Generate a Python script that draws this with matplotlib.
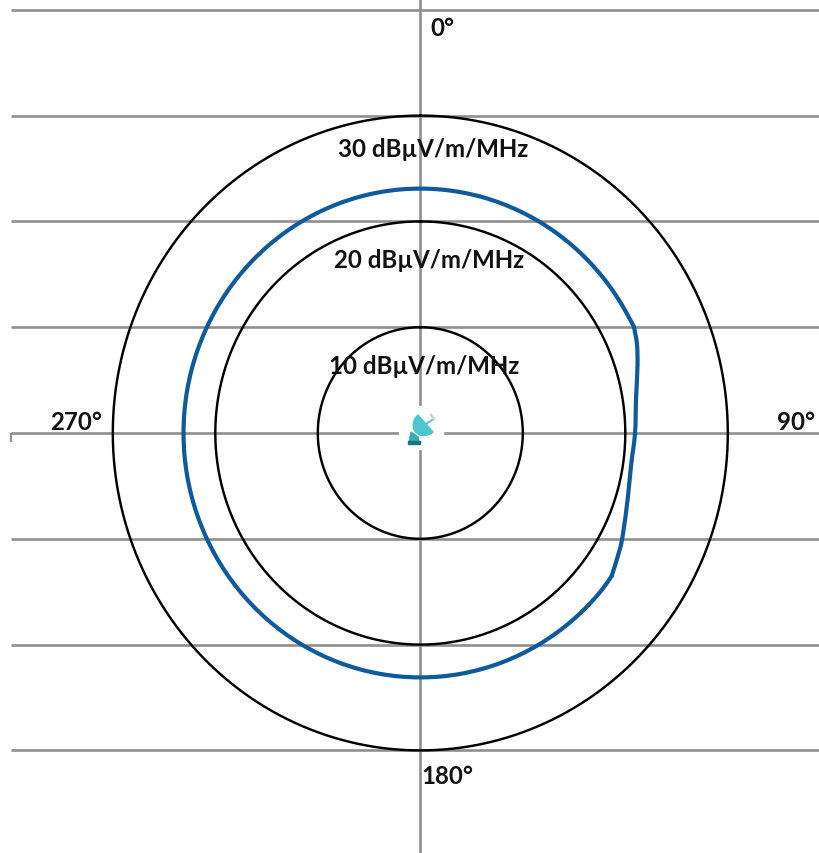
import matplotlib
matplotlib.use("Agg")
import matplotlib.pyplot as plt
import numpy as np
from matplotlib.patches import Polygon, Rectangle, PathPatch
from matplotlib.path import Path

# Data: field-strength contour levels (dBuV/m/MHz) and measured contour (azimuth deg, level)
levels = [10, 20, 30]
level_labels = ["10 dBµV/m/MHz", "20 dBµV/m/MHz", "30 dBµV/m/MHz"]
grid_rows = [-30, -20, -10, 0, 10, 20, 30, 40]
azimuth = [64.3, 68.3, 73.4, 81.3, 90, 98.6, 107.1, 115.3, 119.4, 125.9,
           130, 135, 140, 145, 150, 155, 160, 165, 170, 175, 180,
           185, 190, 195, 200, 205, 210, 215, 220, 225, 230, 235, 240,
           245, 250, 255, 260, 265, 270, 275, 280, 285, 290, 295, 300,
           305, 310, 315, 320, 325, 330, 335, 340, 345, 350, 355, 360,
           365, 370, 375, 380, 385, 390, 395, 400, 405, 410, 415, 420, 424.3]
level = [23.13, 22.75, 22.11, 21.29, 20.95, 20.79, 21.17, 21.9, 22.35, 23.05,
         23.1, 23.1, 23.1, 23.1, 23.1, 23.1, 23.1, 23.1, 23.1, 23.1, 23.1,
         23.1, 23.1, 23.1, 23.1, 23.1, 23.1, 23.1, 23.1, 23.1, 23.1, 23.1, 23.1,
         23.1, 23.1, 23.1, 23.1, 23.1, 23.1, 23.1, 23.1, 23.1, 23.1, 23.1, 23.1,
         23.1, 23.1, 23.1, 23.1, 23.1, 23.1, 23.1, 23.1, 23.1, 23.1, 23.1, 23.1,
         23.1, 23.1, 23.1, 23.1, 23.1, 23.1, 23.1, 23.1, 23.1, 23.1, 23.1, 23.1, 23.13]
compass = ["0°", "90°", "180°", "270°"]
corner_index = 9

W, H = 820, 854
CX, CY = 420.3, 434.0
SX, SY = 10.25, 10.58

fig = plt.figure(figsize=(W / 100, H / 100), dpi=100, facecolor="white")
ax = fig.add_axes([0, 0, 1, 1])
ax.set_xlim(-CX / SX, (W - CX) / SX)
ax.set_ylim((CY - H) / SY, CY / SY)
ax.axis("off")


def px(x, y):
    return (x - CX) / SX, (CY - y) / SY


def smooth_path(points):
    """Catmull-Rom curve through the given points, as cubic Bezier segments."""
    p = np.asarray(points)
    verts, codes = [p[0]], [Path.MOVETO]
    for i in range(len(p) - 1):
        a0 = p[max(i - 1, 0)]
        a1, a2 = p[i], p[i + 1]
        a3 = p[min(i + 2, len(p) - 1)]
        verts += [a1 + (a2 - a0) / 6, a2 - (a3 - a1) / 6, a2]
        codes += [Path.CURVE4] * 3
    return Path(verts, codes)


GRID = "#8f8f8f"
x0 = px(11, 0)[0]
for r in grid_rows:
    ax.plot([x0, ax.get_xlim()[1]], [r, r], color=GRID, lw=1.9, solid_capstyle="butt", zorder=1)
xv = px(420, 0)[0]
ax.plot([xv, xv], ax.get_ylim(), color=GRID, lw=1.9, solid_capstyle="butt", zorder=1)
ax.plot([x0, x0], [0, -0.85], color=GRID, lw=1.6, solid_capstyle="butt", zorder=1)

t = np.linspace(0, 2 * np.pi, 721)
for lv in levels:
    ax.plot(lv * np.sin(t), lv * np.cos(t), color="black", lw=1.75, zorder=2)

a = np.radians(azimuth)
r = np.array(level)
xy = np.column_stack([r * np.sin(a), r * np.cos(a)])
for seg in (xy[:corner_index + 1], xy[corner_index:]):
    ax.add_patch(PathPatch(smooth_path(seg), fill=False, edgecolor="#0f5a9c", lw=3.0,
                           capstyle="round", joinstyle="round", zorder=3))

# central dish icon
ax.add_patch(Rectangle(px(399, 450), 44 / SX, 43 / SY, color="white", zorder=4))
centre = np.array([425.5, 424.5])
u = np.array([0.66, 0.75])
n = np.array([-0.75, 0.66])
pts = [centre + 11.3 * np.cos(v) * u + 13 * np.sin(v) * n for v in np.linspace(0, np.pi, 40)]
ax.add_patch(Polygon([px(*p) for p in pts], closed=True, color="#4ec6cf", zorder=6))
ax.plot(*zip(px(426, 425), px(432, 421)), color="#4ec6cf", lw=1.4, zorder=5)
ax.plot(*zip(px(431, 416), px(434, 420)), color="#c4d4d4", lw=1.8, zorder=5)
ax.add_patch(Polygon([px(411, 433), px(418, 438), px(419, 443), px(409, 443)], closed=True, color="#35aeb6", zorder=5))
ax.add_patch(Rectangle(px(408, 444.5), 12 / SX, 2.5 / SY, color="#17777d", zorder=6))

FONT = "Lato"
WT = "bold"
FS = 17.3
label_px = [(424, 366), (429.5, 260), (433.5, 149)]
for lab, (x, y) in zip(level_labels, label_px):
    ax.text(*px(x, y), lab, ha="center", va="center", fontsize=FS, family=FONT,
            weight=WT, color="#111111", zorder=7)
comp_px = [(442, 28), (796, 422), (447, 777), (76, 422)]
for lab, (x, y) in zip(compass, comp_px):
    ax.text(*px(x, y), lab, ha="center", va="center", fontsize=FS, family=FONT,
            weight=WT, color="#111111", zorder=7)

fig.savefig("out.png", dpi=100, facecolor="white")
